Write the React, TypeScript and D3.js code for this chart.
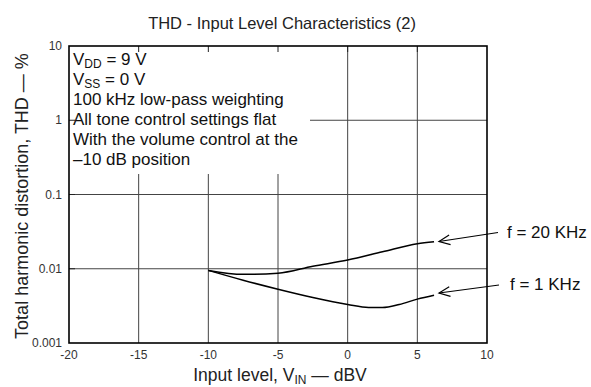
import React, { useEffect, useRef } from 'react';
import * as d3 from 'd3';

// input level (dBV) and THD (%)
const inputLevels = [-10, -7.5, -5, -2.5, 0, 2.5, 5, 6.2];
const thd20k = [0.0095, 0.0084, 0.0087, 0.0108, 0.0131, 0.0169, 0.0217, 0.0231];
const levels1k = [-10, -7.5, -5, -2.5, 0, 1.5, 2.5, 3.7, 5, 6.2];
const thd1k = [0.0095, 0.007, 0.0053, 0.0041, 0.0033, 0.003, 0.003, 0.0033, 0.0039, 0.0044];

const xTicks = [-20, -15, -10, -5, 0, 5, 10];
const yTicks = [0.001, 0.01, 0.1, 1, 10];
const yTickLabels = ['0.001', '0.01', '0.1', '1', '10'];

const W = 591;
const H = 387;

const App = () => {
  const svgRef = useRef<SVGSVGElement | null>(null);

  useEffect(() => {
    if (!svgRef.current) return;
    const svg = d3.select(svgRef.current);
    svg.selectAll('*').remove();

    const left = 69, right = 487, top = 46, bottom = 343;
    const x = d3.scaleLinear().domain([-20, 10]).range([left, right]);
    const y = d3.scaleLog().domain([0.001, 10]).range([bottom, top]);
    const font = 'Liberation Sans, Arial, sans-serif';

    svg.append('rect').attr('width', W).attr('height', H).attr('fill', '#fff');

    // title
    svg.append('text')
      .attr('x', 282).attr('y', 29)
      .attr('text-anchor', 'middle')
      .attr('font-family', font).attr('font-size', 16.5)
      .attr('fill', '#222')
      .text('THD - Input Level Characteristics (2)');

    // grid
    const grid = svg.append('g').attr('stroke', '#444').attr('stroke-width', 1);
    xTicks.slice(1, -1).forEach(t => {
      grid.append('line').attr('x1', x(t)).attr('x2', x(t)).attr('y1', top).attr('y2', bottom);
    });
    yTicks.slice(1, -1).forEach(t => {
      grid.append('line').attr('x1', left).attr('x2', right).attr('y1', y(t)).attr('y2', y(t));
    });

    // white box behind the conditions text
    svg.append('rect')
      .attr('x', left).attr('y', top)
      .attr('width', 310 - left).attr('height', 174 - top)
      .attr('fill', '#fff');

    // inward ticks
    const ticks = svg.append('g').attr('stroke', '#222').attr('stroke-width', 1);
    xTicks.slice(1, -1).forEach(t => {
      ticks.append('line').attr('x1', x(t)).attr('x2', x(t)).attr('y1', top).attr('y2', top + 6);
    });
    yTicks.slice(1, -1).forEach(t => {
      ticks.append('line').attr('x1', left).attr('x2', left + 6).attr('y1', y(t)).attr('y2', y(t));
    });

    // frame
    svg.append('rect')
      .attr('x', left).attr('y', top)
      .attr('width', right - left).attr('height', bottom - top)
      .attr('fill', 'none').attr('stroke', '#000').attr('stroke-width', 1.6);

    // tick labels
    svg.append('g').selectAll('text').data(xTicks).enter().append('text')
      .attr('x', d => x(d)).attr('y', 359)
      .attr('text-anchor', 'middle')
      .attr('font-family', font).attr('font-size', 12).attr('fill', '#333')
      .text(d => String(d));
    svg.append('g').selectAll('text').data(yTicks).enter().append('text')
      .attr('x', left - 7).attr('y', d => y(d) + 4)
      .attr('text-anchor', 'end')
      .attr('font-family', font).attr('font-size', 12).attr('fill', '#333')
      .text((d, i) => yTickLabels[i]);

    // axis titles
    const xt = svg.append('text')
      .attr('x', (left + right) / 2 + 2).attr('y', 381)
      .attr('text-anchor', 'middle')
      .attr('font-family', font).attr('font-size', 17.5).attr('fill', '#222');
    xt.append('tspan').text('Input level, V');
    xt.append('tspan').attr('font-size', 12).attr('dy', 3).text('IN');
    xt.append('tspan').attr('dy', -3).text(' \u2014 dBV');

    svg.append('text')
      .attr('transform', `translate(28,196) rotate(-90)`)
      .attr('text-anchor', 'middle')
      .attr('font-family', font).attr('font-size', 18).attr('fill', '#222')
      .text('Total harmonic distortion, THD \u2014 %');

    // conditions text
    const cond = svg.append('g')
      .attr('font-family', font).attr('font-size', 17).attr('fill', '#111');
    const t1 = cond.append('text').attr('x', 73).attr('y', 65);
    t1.append('tspan').text('V');
    t1.append('tspan').attr('font-size', 12).attr('dy', 3).text('DD');
    t1.append('tspan').attr('dy', -3).text(' = 9 V');
    const t2 = cond.append('text').attr('x', 73).attr('y', 85);
    t2.append('tspan').text('V');
    t2.append('tspan').attr('font-size', 12).attr('dy', 3).text('SS');
    t2.append('tspan').attr('dy', -3).text(' = 0 V');
    cond.append('text').attr('x', 73).attr('y', 105).text('100 kHz low-pass weighting');
    cond.append('text').attr('x', 73).attr('y', 125).text('All tone control settings flat');
    cond.append('text').attr('x', 73).attr('y', 145).text('With the volume control at the');
    cond.append('text').attr('x', 73).attr('y', 165).text('\u201310 dB position');

    // curves
    const line = d3.line<[number, number]>()
      .x(d => x(d[0])).y(d => y(d[1]))
      .curve(d3.curveMonotoneX);
    const curves = [
      inputLevels.map((v, i) => [v, thd20k[i]] as [number, number]),
      levels1k.map((v, i) => [v, thd1k[i]] as [number, number]),
    ];
    curves.forEach(c => {
      svg.append('path').attr('d', line(c))
        .attr('fill', 'none').attr('stroke', '#000').attr('stroke-width', 1.5);
    });

    // callouts
    const callouts = [
      { label: 'f = 20 KHz', lx: 507, ly: 238, from: [498, 232.5], to: [439, 241.5] },
      { label: 'f = 1 KHz', lx: 510, ly: 290, from: [499, 285], to: [439, 293] },
    ];
    callouts.forEach(c => {
      const g = svg.append('g').attr('stroke', '#000').attr('stroke-width', 1.2).attr('fill', 'none');
      g.append('line').attr('x1', c.from[0]).attr('y1', c.from[1]).attr('x2', c.to[0]).attr('y2', c.to[1]);
      const ang = Math.atan2(c.from[1] - c.to[1], c.from[0] - c.to[0]);
      const len = 12, spread = 0.42;
      const p1 = [c.to[0] + len * Math.cos(ang + spread), c.to[1] + len * Math.sin(ang + spread)];
      const p2 = [c.to[0] + len * Math.cos(ang - spread), c.to[1] + len * Math.sin(ang - spread)];
      g.append('path').attr('d', `M${p1[0]},${p1[1]}L${c.to[0]},${c.to[1]}L${p2[0]},${p2[1]}`);
      svg.append('text')
        .attr('x', c.lx).attr('y', c.ly)
        .attr('font-family', font).attr('font-size', 17).attr('fill', '#111')
        .text(c.label);
    });
  }, []);

  return (
    <svg
      ref={svgRef}
      width={W}
      height={H}
      style={{ position: 'absolute', left: 0, top: 0 }}
    />
  );
};

export default App;
